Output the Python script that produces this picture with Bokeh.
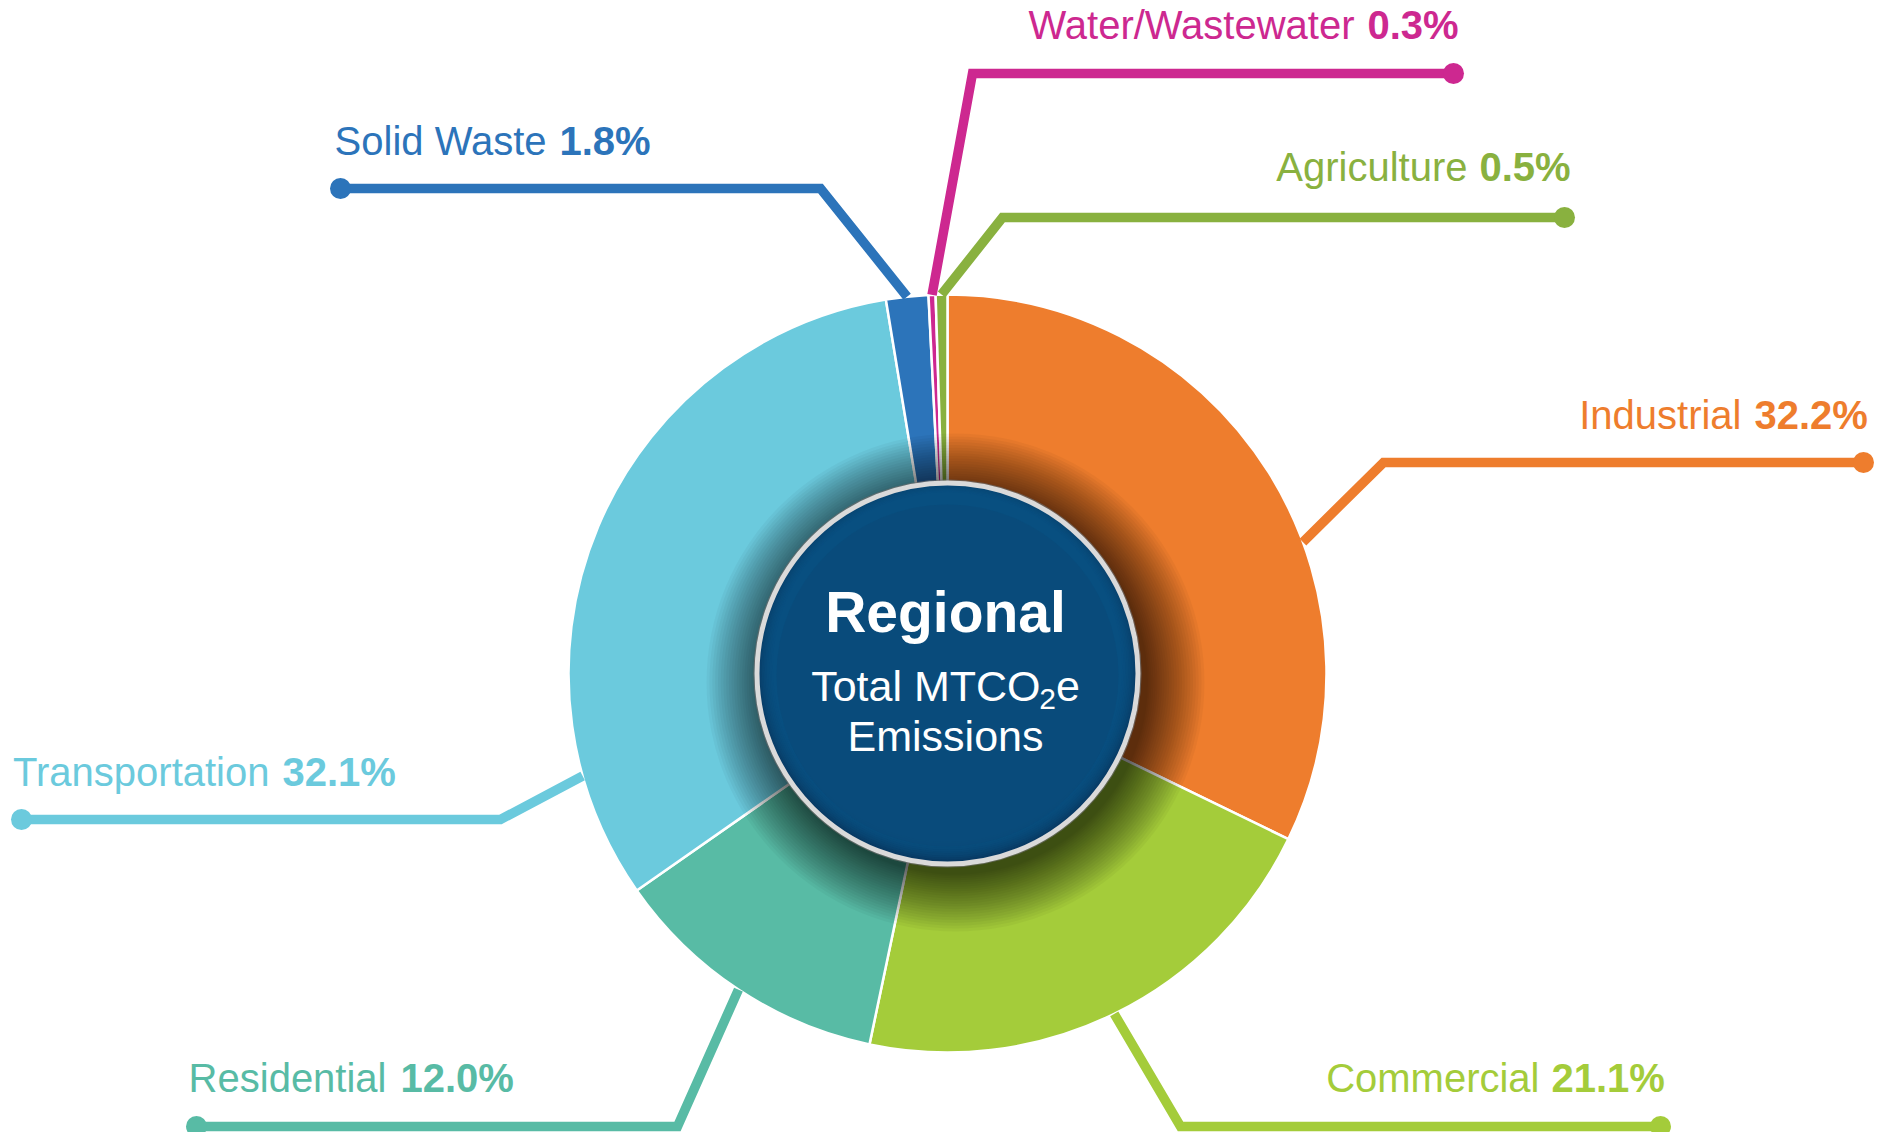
import numpy as np
from bokeh.plotting import figure
from bokeh.models import Range1d
from bokeh.core.properties import value
from bokeh.embed import file_html
from bokeh.resources import INLINE

# ---------------- data ----------------
categories = ["Industrial", "Commercial", "Residential", "Transportation",
              "Solid Waste", "Water/Wastewater", "Agriculture"]
shares = [32.2, 21.1, 12.0, 32.1, 1.8, 0.3, 0.5]
slice_colors = ["#EE7D2D", "#A4CC3A", "#58BBA5", "#6BCADD",
                "#2C74BA", "#CD2890", "#89B13F"]
center_title = "Regional"
center_unit_parts = ["Total MTCO", "2", "e"]
center_last = "Emissions"

# ---------------- layout (screen pixels of the page) ----------------
W, H, OFF = 1888, 1132, 0
def Y(sy):
    return OFF + H - sy

BASE_FIX = 0.40  # text baseline correction, in em

def TY(sy, fs):
    return Y(sy - BASE_FIX * fs)

CX, CY = 947, 673
R_OUT, R_IN = 379, 191
FONT = value("Liberation Sans")
LABEL_FS = 40
LINE_W = 9.5
DOT_R = 10.5

attach_override = {"Industrial": 69.7, "Transportation": 254.3}
elbow = {"Industrial": (1383, 462), "Commercial": (1180, 1126),
         "Residential": (677, 1126), "Transportation": (500, 819),
         "Solid Waste": (820, 188), "Water/Wastewater": (972, 73),
         "Agriculture": (1002, 217)}
end_x = {"Industrial": 1863, "Commercial": 1660, "Residential": 196,
         "Transportation": 21, "Solid Waste": 340, "Water/Wastewater": 1453,
         "Agriculture": 1564}
# (name right edge, percent left edge, baseline)
label_pos = {"Industrial": (1741, 1754, 430), "Commercial": (1539, 1551, 1093),
             "Residential": (386, 400, 1093), "Transportation": (269, 282, 787),
             "Solid Waste": (546, 559, 156), "Water/Wastewater": (1354, 1367, 40),
             "Agriculture": (1467, 1479, 182)}

p = figure(width=W, height=H, output_backend="svg", toolbar_location=None,
           x_range=Range1d(OFF, OFF + W), y_range=Range1d(0, H),
           min_border=0, outline_line_color=None, background_fill_color="white")
p.axis.visible = False
p.grid.visible = False

# ---------------- wedges ----------------
vals = np.array(shares) / np.sum(shares)
cum = np.concatenate([[0], np.cumsum(vals)])
start = np.pi / 2 - 2 * np.pi * cum[:-1]
end = np.pi / 2 - 2 * np.pi * cum[1:]
p.wedge(x=CX, y=Y(CY), radius=R_OUT, start_angle=start, end_angle=end,
        direction="clock", fill_color=slice_colors, line_color="white",
        line_width=2.5)

# ---------------- shadow around the centre disc ----------------
n_sh = 24
for i in range(n_sh):
    r = R_IN + 58 * (1 - i / n_sh) ** 1.2
    p.circle(x=CX + 8, y=Y(CY + 9), radius=r, fill_color="black",
             fill_alpha=0.034, line_color=None)

# ---------------- centre disc ----------------
p.circle(x=CX, y=Y(CY), radius=R_IN, fill_color="#083A64", line_color=None)
for i in range(10):
    r = R_IN - 2 - i * 1.6
    p.circle(x=CX, y=Y(CY - 3 - i * 0.4), radius=r, fill_color="#0D548B",
             fill_alpha=0.16, line_color=None)
p.circle(x=CX, y=Y(CY + 2), radius=R_IN - 20, fill_color="#0B4877",
         fill_alpha=0.55, line_color=None)
p.circle(x=CX, y=Y(CY), radius=R_IN + 2.5, fill_color=None,
         line_color="#6E6E6E", line_width=1.2, line_alpha=0.7)
p.circle(x=CX, y=Y(CY), radius=R_IN - 0.5, fill_color=None,
         line_color="#DADADA", line_width=5)

p.text(x=[CX - 2], y=[TY(634, 57)], text=[center_title], text_font=FONT,
       text_font_style="bold", text_font_size="57px", text_color="white",
       text_align="center", text_baseline="alphabetic")

# "Total MTCO2e" with a real subscript 2
fs_main, fs_sub = 43, 30
w_main = 5.445 * fs_main - 6
w_sub = 0.556 * fs_sub
w_e = 0.556 * fs_main
x0 = CX - 2 - (w_main + w_sub + w_e) / 2
p.text(x=[x0], y=[TY(703, fs_main)], text=[center_unit_parts[0]], text_font=FONT,
       text_font_size=f"{fs_main}px", text_color="white",
       text_align="left", text_baseline="alphabetic")
p.text(x=[x0 + w_main], y=[TY(710, fs_sub)], text=[center_unit_parts[1]],
       text_font=FONT, text_font_size=f"{fs_sub}px", text_color="white",
       text_align="left", text_baseline="alphabetic")
p.text(x=[x0 + w_main + w_sub], y=[TY(703, fs_main)], text=[center_unit_parts[2]],
       text_font=FONT, text_font_size=f"{fs_main}px", text_color="white",
       text_align="left", text_baseline="alphabetic")
p.text(x=[CX - 2], y=[TY(753, fs_main)], text=[center_last],
       text_font=FONT, text_font_size=f"{fs_main}px", text_color="white",
       text_align="center", text_baseline="alphabetic")

# ---------------- leaders and labels ----------------
for k, cat in enumerate(categories):
    col = slice_colors[k]
    mid = 360 * (cum[k] + cum[k + 1]) / 2
    a = np.deg2rad(attach_override.get(cat, mid))
    sx0 = CX + R_OUT * np.sin(a)
    sy0 = CY - R_OUT * np.cos(a)
    ex, ey = elbow[cat]
    xs = [sx0, ex, end_x[cat]]
    ys = [Y(sy0), Y(ey), Y(ey)]
    p.line(xs, ys, line_color=col, line_width=LINE_W, line_join="miter",
           line_cap="butt")
    p.circle(x=[end_x[cat]], y=[Y(ey)], radius=DOT_R, fill_color=col,
             line_color=None)
    nx, px, by = label_pos[cat]
    p.text(x=[nx], y=[TY(by, LABEL_FS)], text=[cat], text_font=FONT,
           text_font_size=f"{LABEL_FS}px", text_color=col, text_align="right",
           text_baseline="alphabetic")
    p.text(x=[px], y=[TY(by, LABEL_FS)], text=[f"{shares[k]:.1f}%"],
           text_font=FONT, text_font_style="bold",
           text_font_size=f"{LABEL_FS}px", text_color=col,
           text_align="left", text_baseline="alphabetic")

open("out.html", "w").write(file_html(p, INLINE))
